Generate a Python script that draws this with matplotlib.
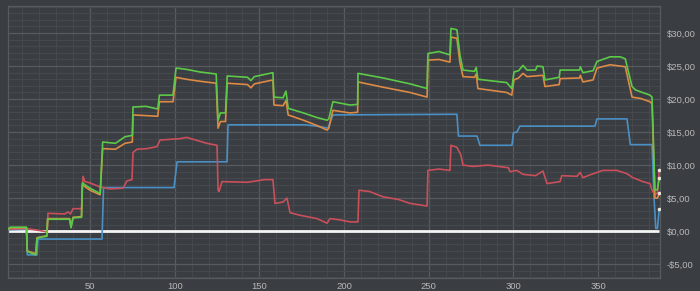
import matplotlib
matplotlib.use("Agg")
import matplotlib.pyplot as plt
from matplotlib.ticker import MultipleLocator, FuncFormatter

# ---- data (breakpoints) ----
green_x = [1, 3, 12.5, 13, 18, 18.7, 22, 24.5, 25, 38, 38.8, 40, 45, 45.5, 50, 56, 57.5, 65, 70.7, 75, 75.4, 83, 90, 91, 99,
           100.8, 107, 115, 124.5, 125.6, 127, 130, 131, 143, 145, 147, 158, 158.6, 164, 165.7, 167, 176, 184, 190, 191,
           193.4, 203.5, 208, 208.2, 223, 239, 249, 249.5, 256, 262.5, 263.1, 266.6, 268.4, 270.2, 277, 278, 279, 296,
           299, 300.3, 303, 305.6, 308, 313, 314, 317.4, 318.6, 327, 327.5, 339, 339.5, 341, 347, 349.3, 357, 363, 366,
           370, 372, 375, 380.6, 381.8, 383.5, 385, 386]
green_y = [0.2, 0.6, 0.6, -3.1, -3.6, -1.1, -0.85, -0.8, 1.8, 1.8, 0.5, 2.0, 2.1, 7.3, 6.5, 5.7, 13.5, 13.3, 14.3, 14.5, 18.8,
           18.9, 18.5, 20.6, 20.6, 24.7, 24.5, 24.1, 23.8, 16.8, 17.9, 17.9, 23.5, 23.3, 22.8, 23.4, 24.0, 20.3, 20.2, 21.2,
           18.6, 17.9, 17.2, 16.8, 17.0, 19.6, 19.1, 19.2, 23.9, 23.2, 22.3, 21.6, 26.9, 27.2, 26.7, 30.7, 30.5, 26.7, 24.4,
           24.2, 24.8, 23.0, 22.5, 21.6, 24.1, 24.3, 25.1, 24.4, 24.4, 25.0, 24.9, 22.9, 23.3, 24.4, 24.4, 24.9, 24.0, 24.3,
           25.7, 26.4, 26.4, 26.1, 21.9, 21.4, 21.1, 20.6, 20.3, 6.2, 6.3, 8.0]

orange_x = [1, 3, 12.5, 13, 18, 18.7, 24.5, 25, 38, 38.8, 40, 45, 45.5, 50, 56, 57.5, 65, 70.7, 75, 75.4, 90, 91, 99, 100.8,
            107, 115, 124.5, 125.6, 127, 130, 131, 143, 145, 147, 158, 158.6, 164, 165.7, 167, 176, 184, 190, 191, 193.4,
            203.5, 208, 208.2, 223, 239, 249, 249.5, 256, 262.5, 263.1, 266.6, 268.4, 270.2, 277, 278, 279, 296, 299,
            300.3, 303, 305.6, 308, 317.4, 318.6, 327, 327.5, 339, 339.5, 341, 347, 349.3, 357, 366, 370, 375, 380.6,
            381.8, 383.5, 385, 386]
orange_y = [0.2, 0.5, 0.5, -3.0, -3.4, -1.0, -0.7, 1.9, 1.9, 0.7, 2.1, 2.2, 7.0, 6.2, 5.5, 12.5, 12.4, 13.3, 13.5, 17.6, 17.4,
            19.6, 19.6, 23.3, 23.0, 22.7, 22.4, 15.6, 16.6, 16.6, 22.4, 22.2, 21.7, 22.3, 22.9, 19.1, 19.0, 19.8, 17.6, 16.8,
            16.0, 15.3, 15.6, 18.3, 17.9, 18.0, 22.6, 21.8, 21.0, 20.3, 25.9, 26.0, 25.6, 29.4, 29.2, 25.5, 23.4, 23.3, 23.8,
            21.6, 21.0, 20.6, 22.9, 23.2, 23.9, 23.4, 23.6, 21.9, 22.2, 23.1, 23.2, 23.6, 22.6, 22.9, 24.7, 25.2, 24.9, 20.3,
            20.1, 19.6, 19.3, 5.0, 5.0, 5.7]

red_x = [1, 12, 20, 24, 24.8, 25.2, 35, 37, 38.5, 40, 45, 45.9, 47, 50, 55.9, 61.8, 69.5, 71.8, 74.8, 75.4, 77.7, 83.7, 89.6,
         91.3, 103, 107, 115, 119, 125, 125.6, 126.2, 127.9, 143, 153, 158, 159.2, 163.9, 166.3, 168.1, 174, 184, 189.9,
         191.7, 197.6, 203.5, 208.2, 208.8, 215, 223, 232, 239, 249, 249.5, 256, 262.5, 263.1, 266.6, 269, 270.2, 276, 285,
         297, 298, 302, 305.6, 313, 317.4, 319.8, 327.5, 328.5, 337.5, 339.3, 341, 346, 352.8, 361, 367, 370.5, 376.4,
         380.6, 381.8, 383.5, 385, 386]
red_y = [0.3, 0.4, 0.1, -0.1, 0.0, 2.7, 2.6, 2.9, 2.6, 3.4, 3.4, 8.3, 7.5, 7.3, 6.7, 6.4, 6.5, 7.6, 7.8, 11.9, 12.4, 12.5, 12.8,
         13.8, 14.0, 14.2, 13.6, 13.3, 13.0, 6.2, 6.0, 7.5, 7.4, 7.8, 7.8, 4.2, 4.4, 5.0, 2.8, 2.4, 1.9, 1.2, 1.9, 1.7, 1.4,
         1.4, 6.2, 6.0, 5.2, 4.8, 4.2, 3.8, 9.2, 9.4, 9.2, 13.0, 12.7, 11.5, 10.0, 9.8, 10.0, 9.6, 9.0, 9.2, 8.6, 8.4, 9.1,
         7.2, 7.5, 8.4, 8.3, 8.9, 8.1, 8.6, 9.2, 9.2, 8.7, 8.1, 7.5, 7.2, 6.2, 5.5, 5.8, 9.2]

blue_x = [1, 12.5, 13, 18.7, 19.3, 57.1, 58, 99.6, 101.4, 130.9, 131.5, 176.9, 184, 190.5, 193.4, 266.6, 267.5, 278.5, 280.2,
          299.1, 300, 302, 303.8, 348.1, 349.3, 367, 369, 381.8, 383, 384, 385, 386]
blue_y = [0.2, 0.3, -3.6, -3.6, -1.2, -1.2, 6.6, 6.6, 10.5, 10.5, 16.1, 16.1, 15.9, 15.6, 17.6, 17.7, 14.4, 14.4, 13.0,
          13.0, 14.9, 15.0, 15.9, 15.9, 17.0, 17.0, 13.1, 13.1, 5.0, 0.4, 0.4, 3.3]

x_ticks = [50, 100, 150, 200, 250, 300, 350]
y_ticks = [-5, 0, 5, 10, 15, 20, 25, 30]

# ---- style ----
BG = "#3a3d42"
fig = plt.figure(figsize=(7.0, 2.91), dpi=100, facecolor=BG)
ax = fig.add_axes([8 / 700, 1 - 278 / 291, 652 / 700, 272 / 291], facecolor=BG)

ax.set_xlim(1.6, 386.5)
ax.set_ylim(-7.1, 34.1)

ax.xaxis.set_major_locator(plt.FixedLocator(x_ticks))
ax.yaxis.set_major_locator(plt.FixedLocator(y_ticks))
ax.xaxis.set_minor_locator(MultipleLocator(10))
ax.yaxis.set_minor_locator(MultipleLocator(1))
ax.grid(which="major", color="#575a5f", linewidth=0.9)
ax.grid(which="minor", color="#46494e", linewidth=0.7)
ax.set_axisbelow(True)

for s in ax.spines.values():
    s.set_color("#575a5f")
    s.set_linewidth(0.9)

ax.yaxis.tick_right()


def money(v, pos):
    s = "${:.2f}".format(abs(v)).replace(".", ",")
    return ("-" + s) if v < 0 else s


ax.yaxis.set_major_formatter(FuncFormatter(money))
ax.tick_params(which="both", length=0)
ax.tick_params(axis="y", pad=5, labelsize=6.8, labelcolor="#b8b8b8")
ax.tick_params(axis="x", pad=3, labelsize=6.8, labelcolor="#b8b8b8")
for lab in ax.get_xticklabels() + ax.get_yticklabels():
    lab.set_fontfamily(["Liberation Sans", "DejaVu Sans"])

ax.plot([1, 386], [0, 0], color="#f4f4f4", linewidth=2.0, zorder=2, solid_capstyle="butt")

series = [
    (blue_x, blue_y, "#4a90c4"),
    (red_x, red_y, "#c9505a"),
    (orange_x, orange_y, "#dd8a45"),
    (green_x, green_y, "#5cca48"),
]
for xs, ys, c in series:
    ax.plot(xs, ys, color=c, linewidth=1.2, zorder=3, solid_joinstyle="round")
for xs, ys, c in series:
    ax.plot([xs[-1]], [ys[-1]], "o", color="#e6e6d6", markersize=2.6, zorder=4, markeredgewidth=0)

fig.savefig("out.png", dpi=100, facecolor=BG)
